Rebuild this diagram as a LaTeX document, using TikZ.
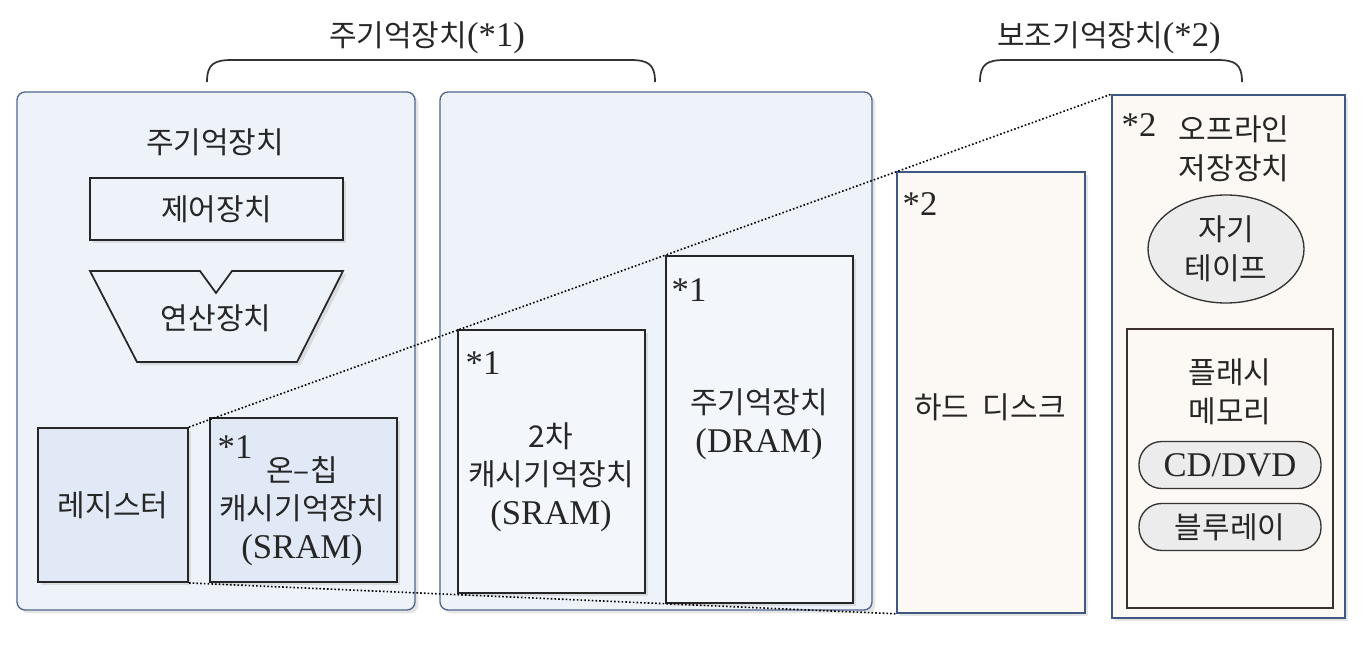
\documentclass[tikz,border=0pt]{standalone}
\usepackage{fontspec}
\usetikzlibrary{shapes.geometric,shadows}
\newfontfamily\kr{Noto Sans CJK KR}
\newfontfamily\serif{Liberation Serif}
\newcommand\lat[1]{{\serif\fontsize{26}{29}\selectfont #1}}
\definecolor{panelfill}{HTML}{EEF2F9}
\definecolor{panelline}{HTML}{50658C}
\definecolor{cellblue}{HTML}{E0E9F5}
\definecolor{cellpale}{HTML}{F3F6FB}
\definecolor{cream}{HTML}{FCF8F3}
\definecolor{creamline}{HTML}{3F5783}
\definecolor{flashline}{HTML}{3B302B}
\definecolor{pillfill}{HTML}{ECECEC}
\tikzset{
  softshadow/.style={drop shadow={shadow xshift=2.5pt, shadow yshift=-2.5pt, opacity=0.2, fill=gray}},
  panel/.style={draw=panelline, fill=panelfill, line width=1pt, rounded corners=6pt, inner sep=0pt, softshadow},
  cell/.style={draw=black!85, line width=1.9pt, inner sep=0pt, softshadow},
  txt/.style={font=\kr\fontsize{22.5}{29}\selectfont, align=center, text=black!85, inner sep=0pt},
  starmark/.style={font=\serif\fontsize{26}{29}\selectfont, text=black!85, inner sep=0pt},
  pill/.style={draw=black!80, fill=pillfill, line width=1pt, rounded corners=17pt, minimum width=136.5pt, minimum height=35.25pt, inner sep=0pt},
  zoomline/.style={line width=1.2pt, dash pattern=on 1.2pt off 1.6pt},
  brace/.style={line width=1.3pt, draw=black!80},
}
\begin{document}
\begin{tikzpicture}[x=0.75pt,y=-0.75pt]
\useasboundingbox[fill=white] (0,0) rectangle (1366,646);

\node[txt] (maintitle) at (427,38) {주기억장치\lat{(*1)}};
\node[txt] (subtitle) at (1109,38) {보조기억장치\lat{(*2)}};
\draw[brace] (207,82) .. controls (207,64) and (214,60) .. (232,60) -- (630,60) .. controls (648,60) and (655,64) .. (655,82);
\draw[brace] (980,82) .. controls (980,64) and (987,60) .. (1005,60) -- (1217,60) .. controls (1235,60) and (1242,64) .. (1242,82);

\node[panel, minimum width=298.5pt, minimum height=388.5pt] (mainpanel) at (216,351) {};
\node[panel, minimum width=324pt, minimum height=388.5pt] (cachepanel) at (656,351) {};

\node[txt] (mainlabel) at (215,142) {주기억장치};
\node[cell, txt, line width=1.4pt, fill=panelfill, minimum width=189.75pt, minimum height=46.5pt] (ctrl) at (216.5,209) {제어장치};
\draw[line width=1.3pt, draw=black!85, fill=panelfill, softshadow] (90,271) -- (200,271) -- (216,293) -- (232,271) -- (343,271) -- (297,362) -- (137,362) -- cycle;
\node[txt] (alu) at (216,318) {연산장치};

\node[cell, txt, line width=1.4pt, fill=cellblue, minimum width=112.5pt, minimum height=115.5pt] (reg) at (113,505) {레지스터};
\node[cell, fill=cellblue, minimum width=140.25pt, minimum height=123pt] (onchip) at (303.5,500) {};
\node[starmark] (onchipmark) at (235,447) {*1};
\node[txt] (onchiptext) at (302,511) {온–칩\\캐시기억장치\\\lat{(SRAM)}};

\node[cell, fill=cellpale, minimum width=140.25pt, minimum height=197.25pt] (ltwo) at (551.5,461.5) {};
\node[starmark] (ltwomark) at (483,363) {*1};
\node[txt] (ltwotext) at (551,477) {2차\\캐시기억장치\\\lat{(SRAM)}};

\node[cell, fill=cellpale, minimum width=140.25pt, minimum height=260.25pt] (dram) at (759.5,429.5) {};
\node[starmark] (drammark) at (689,290) {*1};
\node[txt] (dramtext) at (759,424) {주기억장치\\\lat{(DRAM)}};

\node[cell, draw=creamline, line width=1.2pt, fill=cream, minimum width=141pt, minimum height=330.75pt] (hdd) at (991,392.5) {};
\node[starmark] (hddmark) at (920,204) {*2};
\node[txt] (hddtext) at (990,407) {하드\hspace{0.45em}디스크};

\node[cell, draw=creamline, line width=1.2pt, fill=cream, minimum width=174.75pt, minimum height=392.25pt] (offline) at (1228.5,356.5) {};
\node[starmark] (offlinemark) at (1139,125) {*2};
\node[txt] (offlinetext) at (1234,149) {오프라인\\저장장치};
\node[ellipse, txt, draw=black!80, fill=pillfill, line width=1pt, minimum width=117pt, minimum height=81pt] (tape) at (1226,249) {자기\\테이프};

\node[draw=flashline, fill=cream, line width=1.8pt, minimum width=154.5pt, minimum height=209.25pt] (flash) at (1230,468.5) {};
\node[txt] (flashtext) at (1230,392) {플래시\\메모리};
\node[pill, txt] (cd) at (1230,465) {\lat{CD/DVD}};
\node[pill, txt] (bluray) at (1230,527) {블루레이};

\draw[zoomline] (reg.north east) -- (offline.north west);
\draw[zoomline] (reg.south east) -- (hdd.south west);
\end{tikzpicture}
\end{document}
